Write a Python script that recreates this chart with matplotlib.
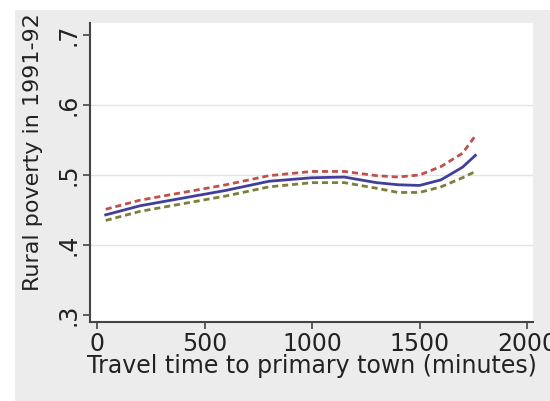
import numpy as np
import matplotlib
matplotlib.use("Agg")
import matplotlib.pyplot as plt
from matplotlib.patches import Rectangle

plt.rcParams['font.family'] = ['DejaVu Sans']

# travel time (minutes) and smoothed rural poverty rate with bounds
travel_time = [40, 200, 400, 600, 800, 1000, 1150, 1300, 1400, 1500, 1600, 1700, 1760]
poverty_fit = [.443, .456, .467, .478, .491, .496, .497, .489, .486, .485, .493, .511, .528]
poverty_upper = [.451, .464, .475, .486, .499, .505, .505, .499, .497, .500, .512, .531, .556]
poverty_lower = [.435, .448, .459, .470, .483, .489, .489, .481, .475, .475, .483, .496, .505]

x_ticks = [0, 500, 1000, 1500, 2000]
y_ticks = [.3, .4, .5, .6, .7]
y_tick_labels = ['.3', '.4', '.5', '.6', '.7']
grid_levels = [.4, .5, .6]

fig = plt.figure(figsize=(5.5, 4.01), dpi=100)
fig.patch.set_facecolor('white')
fig.patches.append(Rectangle((15 / 550, 0), 1, 391 / 401, transform=fig.transFigure,
                             facecolor='#ececec', edgecolor='none', zorder=-10))

ax = fig.add_axes([90 / 550, 1 - 322 / 401, 443 / 550, 299 / 401])
ax.set_facecolor('white')

for g in grid_levels:
    ax.axhline(g, color='#e4e4e4', lw=1.0, zorder=1)

ax.plot(travel_time, poverty_upper, color='#c0504a', lw=2.0, dashes=(2.2, 1.4), zorder=3)
ax.plot(travel_time, poverty_lower, color='#7d7d3c', lw=2.0, dashes=(2.2, 1.4), zorder=3)
ax.plot(travel_time, poverty_fit, color='#40409c', lw=2.0, zorder=4)

ax.set_xlim(-33, 2028)
ax.set_ylim(.29, .717)
ax.set_xticks(x_ticks)
ax.set_yticks(y_ticks)
ax.set_yticklabels(y_tick_labels, rotation=90, va='center')

for side in ['top', 'right']:
    ax.spines[side].set_visible(False)
for side in ['left', 'bottom']:
    ax.spines[side].set_color('#444444')
    ax.spines[side].set_linewidth(1.5)

ax.tick_params(direction='out', length=5, width=1.2, color='#444444',
               labelsize=17, labelcolor='#222222', pad=2)

ax.set_xlabel('Travel time to primary town (minutes)', fontsize=17, color='#222222', labelpad=-1)
ax.set_ylabel('Rural poverty in 1991-92', fontsize=16, color='#222222')
ax.yaxis.set_label_coords(-0.107, 0.57)

fig.savefig('out.png', dpi=100, facecolor=fig.get_facecolor())
